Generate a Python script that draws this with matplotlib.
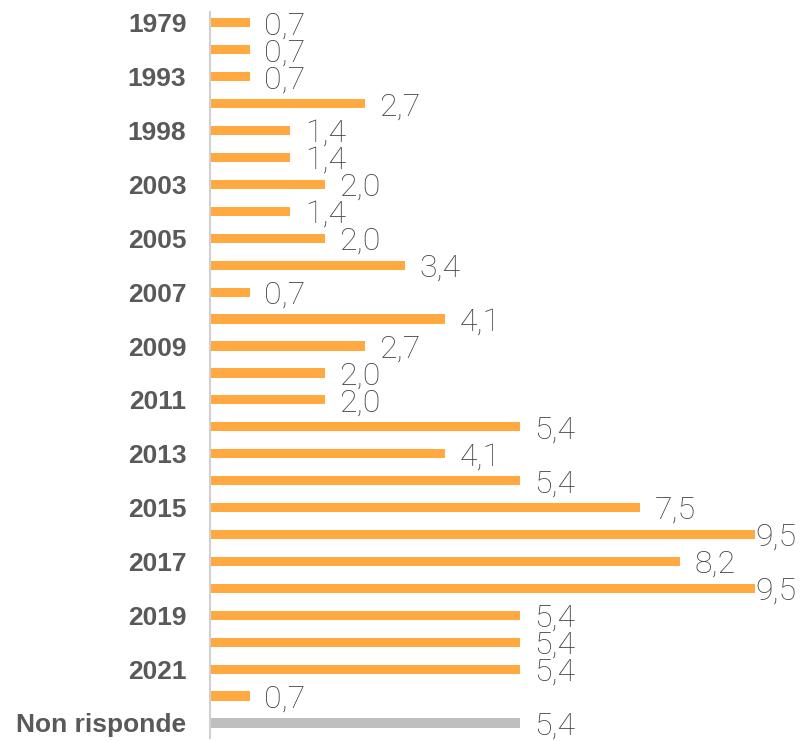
import matplotlib
matplotlib.use("Agg")
import matplotlib.pyplot as plt

# categories (only every other year is labelled in the source)
categories = ["1979", "", "1993", "", "1998", "", "2003", "", "2005", "",
              "2007", "", "2009", "", "2011", "", "2013", "", "2015", "",
              "2017", "", "2019", "", "2021", "", "Non risponde"]
values = [0.7, 0.7, 0.7, 2.7, 1.4, 1.4, 2.0, 1.4, 2.0, 3.4,
          0.7, 4.1, 2.7, 2.0, 2.0, 5.4, 4.1, 5.4, 7.5, 9.5,
          8.2, 9.5, 5.4, 5.4, 5.4, 0.7, 5.4]

ORANGE = "#FFA940"
GREY = "#BFBFBF"
colors = [GREY if c == "Non risponde" else ORANGE for c in categories]

fig = plt.figure(figsize=(8, 7.41), dpi=100)
ax = fig.add_axes([0.2625, 0.004, 0.68125, 0.98])

pos = list(range(len(values)))
ax.barh(pos, values, height=0.34, color=colors)

xmax = 9.5
for y, v in zip(pos, values):
    x = min(v + 0.25, xmax)
    ax.text(x, y, f"{v:.1f}".replace(".", ","), va="center_baseline", ha="left",
            fontsize=23, color="#404040", family="Roboto", fontweight="light",
            clip_on=False)

ax.set_xlim(0, xmax)
ax.set_ylim(26.56, -0.41)
ax.set_yticks(pos)
ax.set_yticklabels(categories, fontsize=19, fontweight="bold", color="#595959",
                   family="Liberation Sans")
ax.tick_params(axis="y", length=0, pad=17)
ax.set_xticks([])
for s in ("top", "right", "bottom"):
    ax.spines[s].set_visible(False)
ax.spines["left"].set_color("#D0D0D0")
ax.spines["left"].set_linewidth(1.5)

fig.savefig("out.png", dpi=100)
